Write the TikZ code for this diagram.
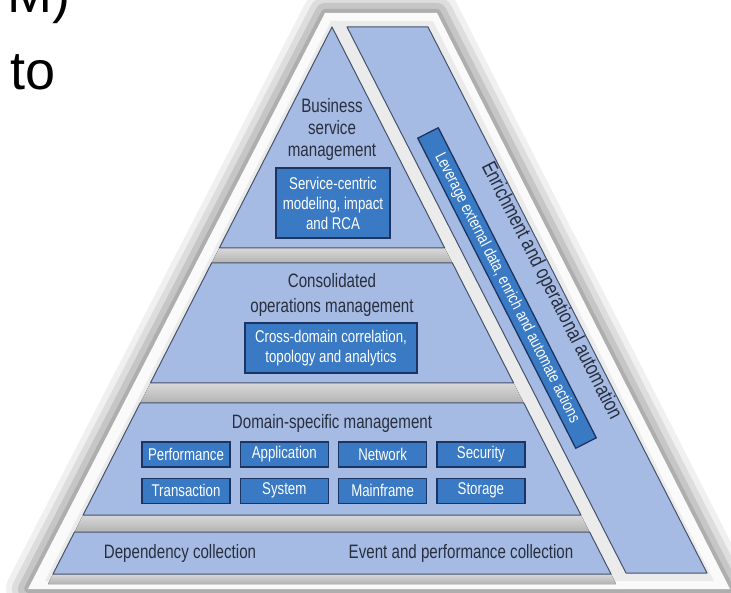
\documentclass[tikz,border=0pt]{standalone}
\usepackage{fontspec}
\setmainfont[FakeStretch=0.78]{Liberation Sans}
\newfontfamily\slidefont{Liberation Sans}
\usetikzlibrary{positioning}

\definecolor{tierblue}{RGB}{166,187,228}
\definecolor{tieredge}{RGB}{70,82,105}
\definecolor{tileblue}{RGB}{58,122,196}
\definecolor{tileedge}{RGB}{28,52,98}
\definecolor{textdark}{RGB}{40,46,62}

\tikzset{
  tier/.style={fill=tierblue, draw=tieredge, line width=1pt, line join=round},
  gap/.style={top color=gray!30, bottom color=gray!60},
  heading/.style={text=textdark, align=center, inner sep=0pt, font=\fontsize{19.4}{22}\selectfont},
  tile/.style={fill=tileblue, draw=tileedge, line width=1.3pt, text=white, align=center, inner sep=0pt, font=\fontsize{17}{20}\selectfont},
  cell/.style={tile, minimum width=88pt, minimum height=25pt},
  slidetext/.style={inner sep=0pt, font=\slidefont\fontsize{54}{60}\selectfont},
}

\begin{document}
\begin{tikzpicture}[x=1pt, y=-1pt]
	\useasboundingbox (0,0) rectangle (731,593);
	\clip (0,0) rectangle (731,593);

	\node[slidetext, anchor=base east] (mclose) at (71,13) {M)}; %
	\node[slidetext, anchor=base west] (to) at (10,90) {to}; %

	% frame round the pyramid, with a soft shadow
	\coordinate (f1) at (325,13);
	\coordinate (f2) at (437,13);
	\coordinate (f3) at (730,589);
	\coordinate (f4) at (28,589);
	\foreach \w/\o in {44/0.06, 32/0.08, 20/0.1, 8/0.12}
		\draw[black, opacity=\o, line width=\w pt, line join=round] (f1) -- (f2) -- (f3) -- (f4) -- cycle;
	\fill[gray!4] (f1) -- (f2) -- (f3) -- (f4) -- cycle;
	\fill[gray!16] (331,21) -- (433,21) -- (714,581) -- (45,581) -- cycle; %

	% recesses between the tiers
	\fill[gap] (219.3,248) -- (444.7,248) -- (452.4,263) -- (211.6,263) -- cycle;
	\fill[gap] (150.4,383) -- (513.6,383) -- (523.8,403) -- (140.2,403) -- cycle;
	\fill[gap] (83.1,515) -- (580.9,515) -- (589.6,532) -- (74.5,532) -- cycle;
	\fill[gap] (53,574) -- (611,574) -- (616,584) -- (48,584) -- cycle;

	% tiers
	\draw[tier] (332,27) -- (444.7,248) -- (219.3,248) -- cycle;
	\draw[tier] (211.6,263) -- (452.4,263) -- (513.6,383) -- (150.4,383) -- cycle;
	\draw[tier] (140.2,403) -- (523.8,403) -- (580.9,515) -- (83.1,515) -- cycle;
	\draw[tier] (74.5,532) -- (589.6,532) -- (611,574) -- (53,574) -- cycle;
	\draw[tier] (347,27) -- (428,27) -- (707,573) -- (626,573) -- cycle;

	% business service management
	\node[heading] (bsm) at (332,129.5) {Business\\service\\management}; %
	\node[tile, minimum width=114pt, minimum height=70pt] (bsmtile) at (333,203)
		{Service-centric\\modeling, impact\\and RCA}; %

	% consolidated operations management
	\node[heading, font=\fontsize{19.4}{25}\selectfont] (com) at (332,294.5) {Consolidated\\operations management}; %
	\node[tile, minimum width=172pt, minimum height=50pt] (comtile) at (331,348)
		{Cross-domain correlation,\\topology and analytics}; %

	% domain-specific management
	\node[heading] (dsm) at (332,423) {Domain-specific management}; %
	\node[cell] (perf) at (186,454.5) {Performance}; %
	\node[cell, right=9pt of perf] (app) {Application}; %
	\node[cell, right=9pt of app] (net) {Network}; %
	\node[cell, right=9pt of net] (sec) {Security}; %
	\node[cell, below=10pt of perf] (trans) {Transaction}; %
	\node[cell, below=10pt of app] (sys) {System}; %
	\node[cell, below=10pt of net] (main) {Mainframe}; %
	\node[cell, below=10pt of sec] (stor) {Storage}; %

	% collection
	\node[heading] (depcol) at (180,553) {Dependency collection}; %
	\node[heading] (evcol) at (461,553) {Event and performance collection}; %

	% enrichment and operational automation
	\node[tile, rotate=-63, minimum width=348pt, minimum height=23pt, font=\fontsize{16.5}{20}\selectfont] (leverage) at (507,288)
		{Leverage external data, enrich and automate actions}; %
	\node[heading, rotate=-63, font=\fontsize{21}{24}\selectfont] (enrich) at (551,291)
		{Enrichment and operational automation}; %
\end{tikzpicture}
\end{document}
